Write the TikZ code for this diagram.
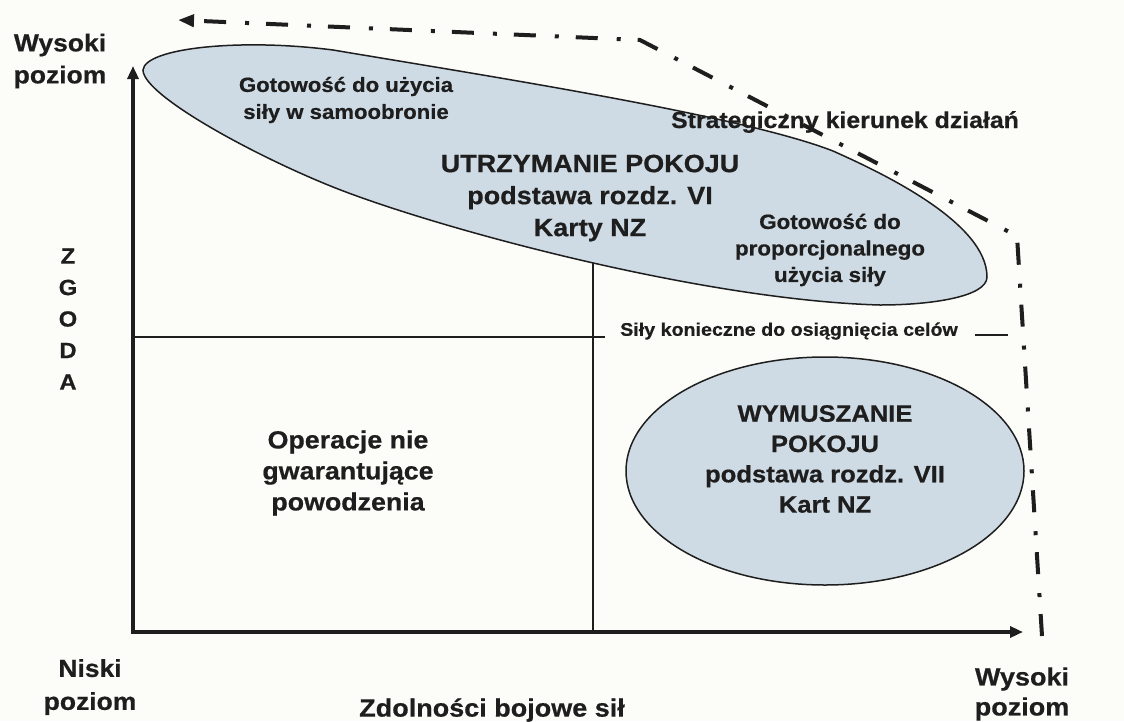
\documentclass[tikz,border=0pt]{standalone}
\usepackage{fontspec}
\setmainfont{Liberation Sans}[FakeStretch=1.08, BoldFeatures={FakeBold=0.6}]
\usetikzlibrary{arrows.meta,shapes.geometric}
\definecolor{ink}{RGB}{30,30,30}
\definecolor{pale}{RGB}{207,219,228}
\definecolor{paper}{RGB}{252,252,249}
\newcommand{\rozm}[2]{\fontsize{#1}{#2}\selectfont}
\tikzset{
    txt/.style={text=ink, align=center, inner sep=0pt},
    os/.style={line width=3.5pt, draw=ink, {Triangle[length=13pt,width=11pt]}-{Triangle[length=13pt,width=11pt]}},
    cienka/.style={line width=1.8pt, draw=ink},
    obszar/.style={fill=pale, draw=ink, line width=1.5pt},
    kierunek/.style={line width=4pt, draw=ink, dash pattern=on 22pt off 17pt on 4pt off 19pt, -{Triangle[length=16pt,width=12pt]}}
}
\begin{document}
\begin{tikzpicture}[x=1pt,y=-1pt]
    \path[use as bounding box, fill=paper] (0,0) rectangle (1124,721);

    % utrzymanie pokoju
    \filldraw[obszar] (143,70) .. controls (145,48) and (240,38) .. (333,50)
        .. controls (500,78) and (743,116) .. (833,151)
        .. controls (880,172) and (987,222) .. (987,277)
        .. controls (987,297) and (930,305) .. (880,305)
        .. controls (700,300) and (433,227) .. (333,187)
        .. controls (253,155) and (143,95) .. (143,70) -- cycle;
    % wymuszanie pokoju
    \node[obszar, ellipse, inner sep=0pt, minimum width=398pt, minimum height=228pt] (wymuszanie) at (825,471) {};

    \coordinate (O) at (133,632);
    \coordinate (ytop) at (133,66);
    \coordinate (xend) at (1023,632);
    \coordinate (hl) at (133,337);
    \coordinate (hr) at (605,337);
    \coordinate (kl) at (975,335);
    \coordinate (kr) at (1008,335);
    \coordinate (vt) at (593,263);
    \coordinate (vb) at (593,632);
    \draw[cienka] (hl) -- (hr);
    \draw[cienka] (kl) -- (kr);
    \draw[cienka] (vt) -- (vb);
    \draw[os] (ytop) -- (O) -- (xend);

    \node[txt, font=\bfseries\rozm{24.5}{32}] (wysokiY) at (60,61) {Wysoki\\poziom};
    \node[txt, font=\bfseries\rozm{22}{31.5}] (zgoda) at (68,319) {Z\\G\\O\\D\\A};
    \node[txt, font=\bfseries\rozm{24.5}{33}] (niski) at (90,687) {Niski\\poziom};
    \node[txt, font=\bfseries\rozm{25}{30}] (wysokiX) at (1022,694) {Wysoki\\poziom};
    \node[txt, font=\bfseries\rozm{25}{30}] (zdolnosci) at (492,710) {Zdolności bojowe sił};

    \node[txt, font=\bfseries\rozm{20.5}{27}] (samoobrona) at (346,100) {Gotowość do użycia\\siły w samoobronie};
    \node[txt, font=\bfseries\rozm{25}{32}] (pokoj) at (590,198) {UTRZYMANIE POKOJU\\podstawa rozdz. VI\\Karty NZ};
    \node[txt, font=\bfseries\rozm{20.7}{26.5}] (proporcja) at (830,250) {Gotowość do\\proporcjonalnego\\użycia siły};
    \node[txt, font=\bfseries\rozm{23}{28}] (strategia) at (845,122) {Strategiczny kierunek działań};
    \node[txt, font=\bfseries\rozm{18.2}{22}] (konieczne) at (789,331) {Siły konieczne do osiągnięcia celów};
    \node[txt, font=\bfseries\rozm{24.8}{31}] (operacje) at (348,473) {Operacje nie\\gwarantujące\\powodzenia};
    \node[txt, font=\bfseries\rozm{23.7}{30.3}] (wymtxt) at (825,459) {WYMUSZANIE\\POKOJU\\podstawa rozdz. VII\\Kart NZ};

    % kierunek strategiczny
    \coordinate (s1) at (1042,636);
    \coordinate (s2) at (1017,236);
    \coordinate (s3) at (640,40);
    \coordinate (s4) at (178,20);
    \draw[kierunek] (s1) -- (s2) -- (s3) -- (s4);
\end{tikzpicture}
\end{document}
